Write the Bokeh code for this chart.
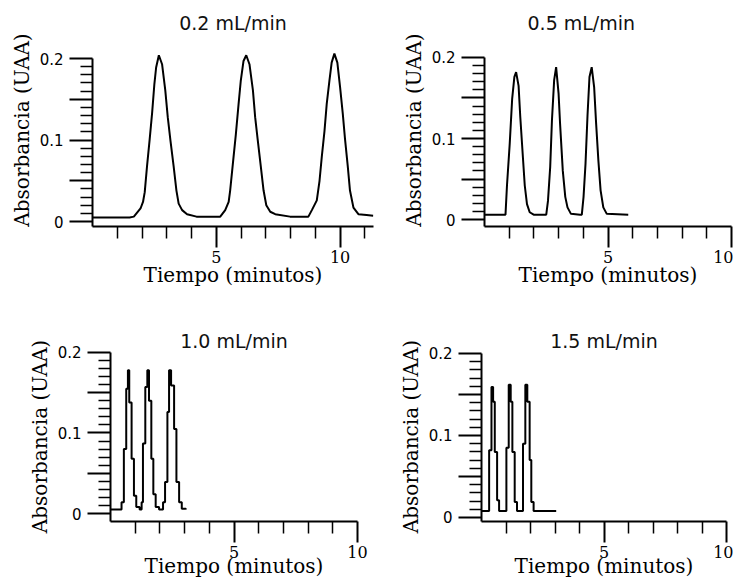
from bokeh.plotting import figure
from bokeh.layouts import row, column
from bokeh.models import FixedTicker
from bokeh.embed import file_html
from bokeh.resources import INLINE

# ---------------- data ----------------
titles = ["0.2 mL/min", "0.5 mL/min", "1.0 mL/min", "1.5 mL/min"]
x_label = "Tiempo (minutos)"
y_label = "Absorbancia (UAA)"

# 0.2 mL/min
t02 = [0.00, 1.50, 1.67, 1.94, 2.04, 2.11, 2.20, 2.31, 2.41, 2.50, 2.57, 2.68,
       2.81, 2.94, 3.04, 3.15, 3.28, 3.39, 3.48, 3.62, 3.82, 4.20,
       5.16, 5.36, 5.50, 5.56, 5.67, 5.79, 5.90, 5.99, 6.10, 6.21,
       6.34, 6.48, 6.57, 6.67, 6.80, 6.91, 7.02, 7.18, 7.38, 7.98,
       8.72, 8.86, 9.06, 9.17, 9.26, 9.37, 9.46, 9.57, 9.66, 9.77,
       9.89, 10.00, 10.11, 10.20, 10.31, 10.40, 10.54, 10.74, 11.07, 11.34]
a02 = [0.005, 0.005, 0.006, 0.016, 0.024, 0.036, 0.067, 0.101, 0.134, 0.169, 0.189, 0.204,
       0.193, 0.161, 0.128, 0.099, 0.067, 0.038, 0.022, 0.014, 0.009, 0.006,
       0.006, 0.014, 0.024, 0.038, 0.071, 0.107, 0.144, 0.173, 0.197, 0.204,
       0.193, 0.161, 0.128, 0.101, 0.067, 0.038, 0.020, 0.012, 0.009, 0.006,
       0.006, 0.014, 0.026, 0.050, 0.079, 0.111, 0.144, 0.173, 0.195, 0.206,
       0.195, 0.165, 0.132, 0.101, 0.068, 0.038, 0.017, 0.009, 0.008, 0.007]

# 0.5 mL/min
t05 = [0.00, 0.85, 0.91, 1.02, 1.12, 1.21, 1.28, 1.38, 1.45, 1.55, 1.63, 1.72, 1.83, 1.99,
       2.50, 2.57, 2.66, 2.73, 2.82, 2.90, 3.00, 3.06, 3.17, 3.27, 3.36, 3.50, 3.87,
       3.94, 4.01, 4.09, 4.17, 4.25, 4.34, 4.44, 4.52, 4.61, 4.70, 4.81, 4.95, 5.82]
a05 = [0.006, 0.006, 0.042, 0.093, 0.149, 0.176, 0.182, 0.165, 0.126, 0.079, 0.042, 0.019, 0.009, 0.006,
       0.006, 0.023, 0.065, 0.122, 0.172, 0.188, 0.155, 0.118, 0.060, 0.028, 0.015, 0.007, 0.006,
       0.006, 0.028, 0.069, 0.128, 0.176, 0.188, 0.163, 0.118, 0.073, 0.036, 0.015, 0.007, 0.006]

# 1.0 mL/min (stepped trace)
t10 = [0.000, 0.447, 0.541, 0.637, 0.705, 0.759, 0.854, 0.949, 1.043, 1.179,
       1.260, 1.314, 1.409, 1.491, 1.558, 1.653, 1.734, 1.829, 1.965,
       2.127, 2.209, 2.304, 2.371, 2.453, 2.575, 2.669, 2.778, 2.886, 3.049]
a10 = [0.005, 0.014, 0.080, 0.155, 0.178, 0.138, 0.068, 0.022, 0.008, 0.005,
       0.014, 0.087, 0.157, 0.178, 0.140, 0.068, 0.024, 0.008, 0.005,
       0.014, 0.039, 0.126, 0.178, 0.159, 0.105, 0.039, 0.014, 0.006, 0.005]

# 1.5 mL/min (stepped trace)
t15 = [0.000, 0.312, 0.407, 0.474, 0.542, 0.637, 0.718,
       1.016, 1.111, 1.192, 1.260, 1.355, 1.450,
       1.694, 1.789, 1.870, 1.965, 2.033, 2.127, 3.049]
a15 = [0.008, 0.082, 0.159, 0.141, 0.080, 0.021, 0.008,
       0.085, 0.162, 0.141, 0.080, 0.019, 0.008,
       0.090, 0.162, 0.141, 0.070, 0.019, 0.008, 0.008]

x_major = [5, 10]
x_minor_long = [1, 2, 3, 4, 6, 7, 8, 9, 11]
x_minor = [1, 2, 3, 4, 6, 7, 8, 9]
y_major = [0, 0.05, 0.1, 0.15, 0.2]
y_minor = [0.01, 0.02, 0.03, 0.04, 0.06, 0.07, 0.08, 0.09,
           0.11, 0.12, 0.13, 0.14, 0.16, 0.17, 0.18, 0.19]
y_labels = {0: "0", 0.05: "", 0.1: "0.1", 0.15: "", 0.2: "0.2"}

SERIF = "DejaVu Serif"
SANS = "DejaVu Sans"


def panel(title, t, a, x_end, x_minor_ticks, y_start, y_end, width, height,
          mbl, mbr, mbt, mbb, title_align, title_offset,
          tick_std, label_std, stepped):
    p = figure(width=width, height=height, x_range=(0, x_end), y_range=(y_start, y_end),
               output_backend="svg", toolbar_location=None,
               min_border_left=mbl, min_border_right=mbr,
               min_border_top=mbt, min_border_bottom=mbb)
    p.outline_line_color = None
    p.background_fill_color = "white"
    p.border_fill_color = "white"
    p.xgrid.visible = False
    p.ygrid.visible = False

    p.title.text = title
    p.title.text_font = SANS
    p.title.text_font_size = "19px"
    p.title.text_font_style = "normal"
    p.title.text_color = "#111111"
    p.title.align = title_align
    p.title.offset = title_offset
    p.title.standoff = 0

    xa = p.xaxis[0]
    xa.ticker = FixedTicker(ticks=x_major, minor_ticks=x_minor_ticks)
    xa.bounds = (0, x_end)
    xa.axis_label = x_label
    xa.axis_label_text_font = SERIF
    xa.axis_label_text_font_size = "20px"
    xa.axis_label_text_font_style = "normal"
    xa.axis_label_text_color = "black"
    xa.axis_label_standoff = label_std
    xa.major_label_text_font = SERIF
    xa.major_label_text_font_size = "16px"
    xa.major_label_text_color = "black"
    xa.major_label_standoff = tick_std
    xa.major_tick_out = 21
    xa.major_tick_in = 0
    xa.minor_tick_out = 12
    xa.minor_tick_in = 0
    xa.axis_line_width = 2
    xa.major_tick_line_width = 2
    xa.minor_tick_line_width = 1.5
    xa.axis_line_color = "black"
    xa.major_tick_line_color = "black"
    xa.minor_tick_line_color = "black"

    ya = p.yaxis[0]
    ya.ticker = FixedTicker(ticks=y_major, minor_ticks=y_minor)
    ya.bounds = (y_start, 0.2)
    ya.major_label_overrides = y_labels
    ya.axis_label = y_label
    ya.axis_label_text_font = SERIF
    ya.axis_label_text_font_size = "20px"
    ya.axis_label_text_font_style = "normal"
    ya.axis_label_text_color = "black"
    ya.axis_label_standoff = 3
    ya.major_label_text_font = SANS
    ya.major_label_text_font_size = "15px"
    ya.major_label_text_color = "black"
    ya.major_label_standoff = 6
    ya.major_tick_out = 23
    ya.major_tick_in = 0
    ya.minor_tick_out = 12
    ya.minor_tick_in = 0
    ya.axis_line_width = 2
    ya.major_tick_line_width = 2
    ya.minor_tick_line_width = 1.5
    ya.axis_line_color = "black"
    ya.major_tick_line_color = "black"
    ya.minor_tick_line_color = "black"

    if stepped:
        p.step(t, a, mode="after", line_color="black", line_width=2)
    else:
        p.line(t, a, line_color="black", line_width=2)
    return p


p1 = panel(titles[0], t02, a02, 11.35, x_minor_long, -0.0061, 0.2307, 390, 296,
           92, 17, 33, 70, "center", 0, 3, -3, False)
p2 = panel(titles[1], t05, a05, 10, x_minor, -0.0086, 0.2296, 343, 296,
           94, 2, 33, 70, "left", 43, 3, -3, False)
p3 = panel(titles[2], t10, a10, 10, x_minor, -0.0099, 0.2012, 390, 284,
           110, 33, 55, 59, "center", 0, 3, -7, True)
p4 = panel(titles[3], t15, a15, 10, x_minor, -0.0049, 0.2024, 343, 284,
           91, 7, 55, 59, "center", 0, 3, -7, True)

layout = column(row(p1, p2), row(p3, p4))

open("out.html", "w").write(file_html(layout, INLINE))
